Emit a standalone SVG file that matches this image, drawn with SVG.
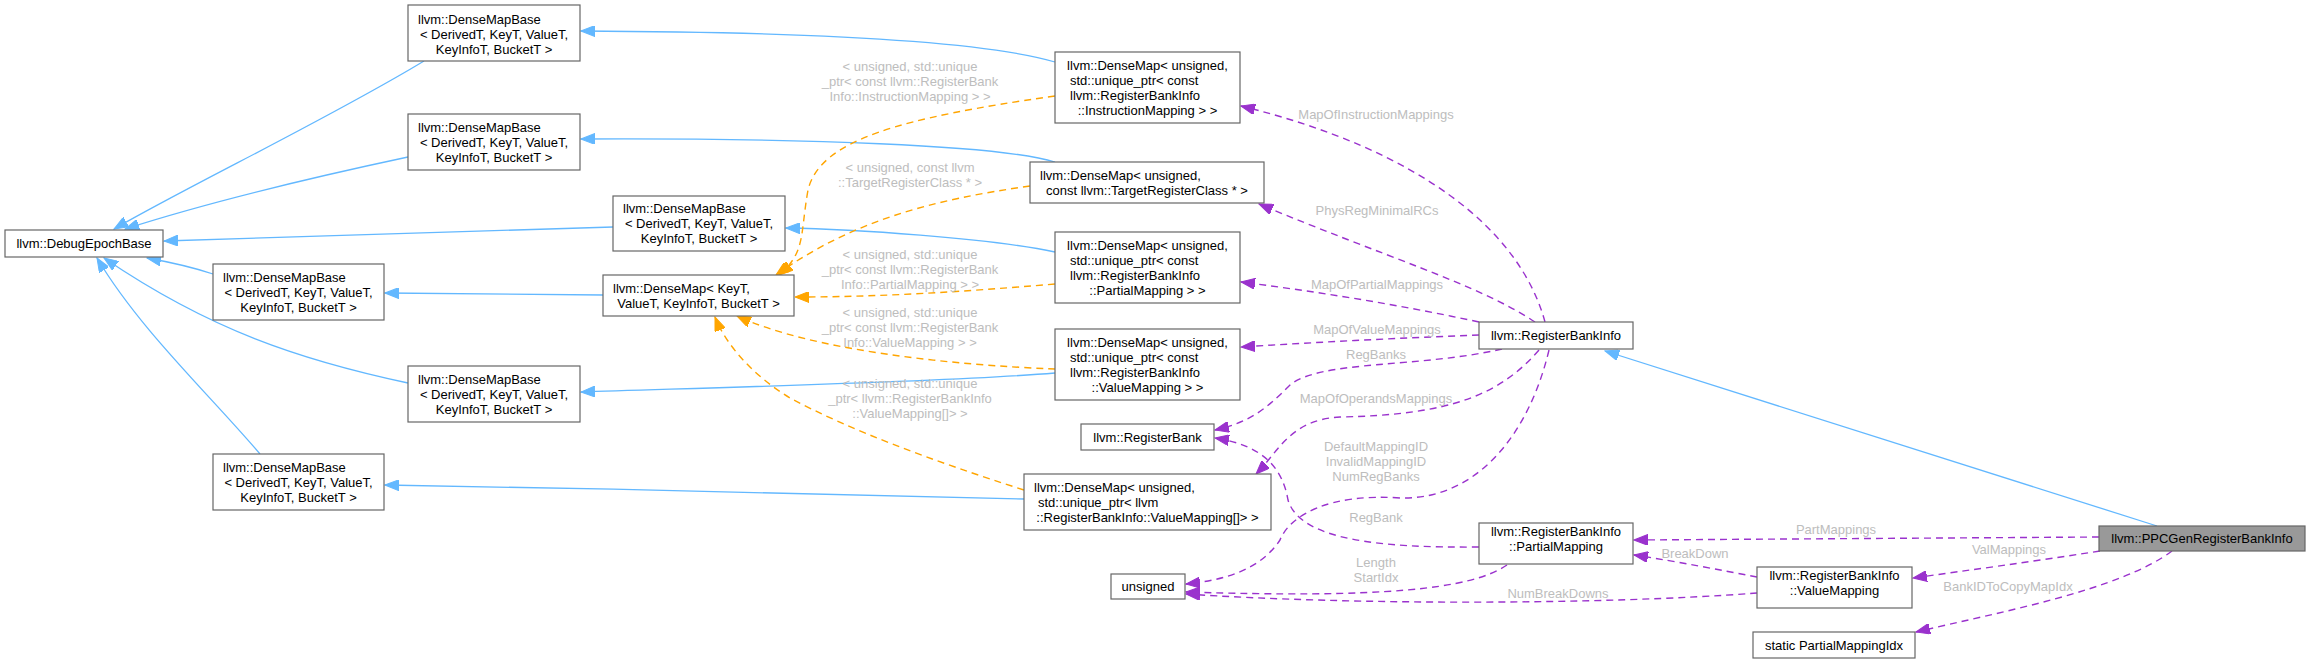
<svg xmlns="http://www.w3.org/2000/svg" width="2311" height="663" viewBox="0 0 2311 663">
<style>
text{font-family:"Liberation Sans",Arial,Helvetica,sans-serif;font-size:13px;fill:#000}
.m{text-anchor:middle}
.lbl{fill:#bdbdbd;text-anchor:middle}
.node rect{fill:#fff;stroke:#666;stroke-width:1.2}
#R rect{fill:#999}
.inh{stroke:#63b8ff;fill:none;stroke-width:1.3}
.tpl{stroke:#ffa500;fill:none;stroke-width:1.4;stroke-dasharray:7,5}
.use{stroke:#9a32cd;fill:none;stroke-width:1.4;stroke-dasharray:7,5}
</style>
<defs>
<marker id="ab" markerUnits="userSpaceOnUse" markerWidth="15" markerHeight="11" refX="14" refY="5.5" orient="auto"><path d="M0,0 L14,5.5 L0,11 z" fill="#63b8ff" stroke="#63b8ff"/></marker>
<marker id="ao" markerUnits="userSpaceOnUse" markerWidth="15" markerHeight="11" refX="14" refY="5.5" orient="auto"><path d="M0,0 L14,5.5 L0,11 z" fill="#ffa500" stroke="#ffa500"/></marker>
<marker id="ap" markerUnits="userSpaceOnUse" markerWidth="15" markerHeight="11" refX="14" refY="5.5" orient="auto"><path d="M0,0 L14,5.5 L0,11 z" fill="#9a32cd" stroke="#9a32cd"/></marker>
</defs>

<g id="edges">
<!-- inheritance -->
<path class="inh" marker-end="url(#ab)" d="M424,61 C330,118 190,185 114,229"/>
<path class="inh" marker-end="url(#ab)" d="M408,157 C300,180 200,205 125,229"/>
<path class="inh" marker-end="url(#ab)" d="M613,227 C450,232 300,237 164,241"/>
<path class="inh" marker-end="url(#ab)" d="M213,274 C195,268 175,263 147,258"/>
<path class="inh" marker-end="url(#ab)" d="M408,383 C300,360 210,330 104,258"/>
<path class="inh" marker-end="url(#ab)" d="M260,454 C210,395 140,330 97,258"/>
<path class="inh" marker-end="url(#ab)" d="M1055,62 C980,40 800,32 581,31"/>
<path class="inh" marker-end="url(#ab)" d="M1055,162 C1000,145 800,138 581,139"/>
<path class="inh" marker-end="url(#ab)" d="M1055,252 C990,238 850,229 786,228"/>
<path class="inh" marker-end="url(#ab)" d="M603,295 L385,293"/>
<path class="inh" marker-end="url(#ab)" d="M1055,373 C950,382 700,388 581,392"/>
<path class="inh" marker-end="url(#ab)" d="M1024,499 C900,496 600,488 385,485"/>
<path class="inh" marker-end="url(#ab)" d="M2157,526 L1605,351"/>
<!-- template -->
<path class="tpl" marker-end="url(#ao)" d="M1055,96 C900,118 820,140 808,190 C800,235 806,252 779,275"/>
<path class="tpl" marker-end="url(#ao)" d="M1030,186 C930,200 850,222 776,275"/>
<path class="tpl" marker-end="url(#ao)" d="M1055,284 C960,292 880,297 795,297"/>
<path class="tpl" marker-end="url(#ao)" d="M1055,369 C950,365 810,350 737,316"/>
<path class="tpl" marker-end="url(#ao)" d="M1024,490 C930,460 850,430 790,398 C760,380 728,350 715,317"/>
<!-- usage -->
<path class="use" marker-end="url(#ap)" d="M1545,322 C1520,230 1420,150 1241,106"/>
<path class="use" marker-end="url(#ap)" d="M1535,322 C1480,285 1380,255 1259,204"/>
<path class="use" marker-end="url(#ap)" d="M1479,322 C1400,305 1320,292 1241,282"/>
<path class="use" marker-end="url(#ap)" d="M1479,335 C1400,338 1320,342 1241,347"/>
<path class="use" marker-end="url(#ap)" d="M1502,349 C1420,368 1320,360 1290,385 C1265,410 1250,422 1215,430"/>
<path class="use" marker-end="url(#ap)" d="M1539,350 C1500,395 1450,415 1340,417 C1290,420 1280,450 1256,474"/>
<path class="use" marker-end="url(#ap)" d="M1549,350 C1530,430 1480,500 1400,498 C1330,493 1290,515 1280,540 C1260,570 1225,580 1186,584"/>
<path class="use" marker-end="url(#ap)" d="M1479,547 C1380,548 1300,540 1288,500 C1282,465 1260,445 1215,438"/>
<path class="use" marker-end="url(#ap)" d="M1507,565 C1470,590 1380,598 1186,592"/>
<path class="use" marker-end="url(#ap)" d="M1757,593 C1600,605 1350,605 1186,594"/>
<path class="use" marker-end="url(#ap)" d="M1757,577 C1720,570 1680,562 1634,555"/>
<path class="use" marker-end="url(#ap)" d="M2099,537 L1634,540"/>
<path class="use" marker-end="url(#ap)" d="M2100,551 C2030,562 1970,570 1913,578"/>
<path class="use" marker-end="url(#ap)" d="M2172,551 C2120,590 2000,612 1916,632"/>
<!-- labels -->
<text class="lbl" x="910" y="70.5">&lt; unsigned, std::unique</text>
<text class="lbl" x="910" y="85.5">_ptr&lt; const llvm::RegisterBank</text>
<text class="lbl" x="910" y="100.5">Info::InstructionMapping &gt; &gt;</text>
<text class="lbl" x="910" y="171.5">&lt; unsigned, const llvm</text>
<text class="lbl" x="910" y="186.5">::TargetRegisterClass * &gt;</text>
<text class="lbl" x="910" y="258.5">&lt; unsigned, std::unique</text>
<text class="lbl" x="910" y="273.5">_ptr&lt; const llvm::RegisterBank</text>
<text class="lbl" x="910" y="288.5">Info::PartialMapping &gt; &gt;</text>
<text class="lbl" x="910" y="316.5">&lt; unsigned, std::unique</text>
<text class="lbl" x="910" y="331.5">_ptr&lt; const llvm::RegisterBank</text>
<text class="lbl" x="910" y="346.5">Info::ValueMapping &gt; &gt;</text>
<text class="lbl" x="910" y="387.5">&lt; unsigned, std::unique</text>
<text class="lbl" x="910" y="402.5">_ptr&lt; llvm::RegisterBankInfo</text>
<text class="lbl" x="910" y="417.5">::ValueMapping[]&gt; &gt;</text>
<text class="lbl" x="1376" y="118.5">MapOfInstructionMappings</text>
<text class="lbl" x="1377" y="214.5">PhysRegMinimalRCs</text>
<text class="lbl" x="1377" y="288.5">MapOfPartialMappings</text>
<text class="lbl" x="1377" y="333.5">MapOfValueMappings</text>
<text class="lbl" x="1376" y="358.5">RegBanks</text>
<text class="lbl" x="1376" y="402.5">MapOfOperandsMappings</text>
<text class="lbl" x="1376" y="450.5">DefaultMappingID</text>
<text class="lbl" x="1376" y="465.5">InvalidMappingID</text>
<text class="lbl" x="1376" y="480.5">NumRegBanks</text>
<text class="lbl" x="1376" y="521.5">RegBank</text>
<text class="lbl" x="1376" y="566.5">Length</text>
<text class="lbl" x="1376" y="581.5">StartIdx</text>
<text class="lbl" x="1558" y="597.5">NumBreakDowns</text>
<text class="lbl" x="1836" y="533.5">PartMappings</text>
<text class="lbl" x="1695" y="557.5">BreakDown</text>
<text class="lbl" x="2009" y="553.5">ValMappings</text>
<text class="lbl" x="2008" y="590.5">BankIDToCopyMapIdx</text>
</g>

<g id="DebugEpochBase" class="node"><rect x="5" y="230" width="158" height="27"/><text class="m" x="84" y="248">llvm::DebugEpochBase</text></g>
<g id="DenseMapBaseA" class="node"><rect x="408" y="5" width="172" height="56"/><text x="418" y="23.5">llvm::DenseMapBase</text><text class="m" x="494" y="38.5">&lt; DerivedT, KeyT, ValueT,</text><text class="m" x="494" y="53.5">KeyInfoT, BucketT &gt;</text></g>
<g id="DenseMapBaseB" class="node"><rect x="408" y="114" width="172" height="56"/><text x="418" y="131.5">llvm::DenseMapBase</text><text class="m" x="494" y="146.5">&lt; DerivedT, KeyT, ValueT,</text><text class="m" x="494" y="161.5">KeyInfoT, BucketT &gt;</text></g>
<g id="DenseMapBaseC" class="node"><rect x="613" y="196" width="172" height="55"/><text x="623" y="213">llvm::DenseMapBase</text><text class="m" x="699" y="228">&lt; DerivedT, KeyT, ValueT,</text><text class="m" x="699" y="243">KeyInfoT, BucketT &gt;</text></g>
<g id="DenseMapBaseD" class="node"><rect x="213" y="264" width="171" height="56"/><text x="223" y="281.5">llvm::DenseMapBase</text><text class="m" x="298.5" y="296.5">&lt; DerivedT, KeyT, ValueT,</text><text class="m" x="298.5" y="311.5">KeyInfoT, BucketT &gt;</text></g>
<g id="DenseMapBaseE" class="node"><rect x="408" y="366" width="172" height="56"/><text x="418" y="383.5">llvm::DenseMapBase</text><text class="m" x="494" y="398.5">&lt; DerivedT, KeyT, ValueT,</text><text class="m" x="494" y="413.5">KeyInfoT, BucketT &gt;</text></g>
<g id="DenseMapBaseF" class="node"><rect x="213" y="454" width="171" height="56"/><text x="223" y="471.5">llvm::DenseMapBase</text><text class="m" x="298.5" y="486.5">&lt; DerivedT, KeyT, ValueT,</text><text class="m" x="298.5" y="501.5">KeyInfoT, BucketT &gt;</text></g>
<g id="DenseMapKeyT" class="node"><rect x="603" y="275" width="191" height="41"/><text x="613" y="292.5">llvm::DenseMap&lt; KeyT,</text><text class="m" x="698.5" y="307.5">ValueT, KeyInfoT, BucketT &gt;</text></g>
<g id="DenseMapInstr" class="node"><rect x="1055" y="52" width="185" height="71"/><text class="m" x="1147.5" y="69.5">llvm::DenseMap&lt; unsigned,</text><text x="1070" y="84.5">std::unique_ptr&lt; const</text><text x="1070" y="99.5">llvm::RegisterBankInfo</text><text class="m" x="1147.5" y="114.5">::InstructionMapping &gt; &gt;</text></g>
<g id="DenseMapTRC" class="node"><rect x="1030" y="162" width="234" height="41"/><text x="1040" y="179.5">llvm::DenseMap&lt; unsigned,</text><text class="m" x="1147" y="194.5">const llvm::TargetRegisterClass * &gt;</text></g>
<g id="DenseMapPartial" class="node"><rect x="1055" y="232" width="185" height="71"/><text class="m" x="1147.5" y="249.5">llvm::DenseMap&lt; unsigned,</text><text x="1070" y="264.5">std::unique_ptr&lt; const</text><text x="1070" y="279.5">llvm::RegisterBankInfo</text><text class="m" x="1147.5" y="294.5">::PartialMapping &gt; &gt;</text></g>
<g id="DenseMapValue" class="node"><rect x="1055" y="329" width="185" height="71"/><text class="m" x="1147.5" y="346.5">llvm::DenseMap&lt; unsigned,</text><text x="1070" y="361.5">std::unique_ptr&lt; const</text><text x="1070" y="376.5">llvm::RegisterBankInfo</text><text class="m" x="1147.5" y="391.5">::ValueMapping &gt; &gt;</text></g>
<g id="RegisterBank" class="node"><rect x="1081" y="424" width="133" height="26"/><text class="m" x="1147.5" y="441.5">llvm::RegisterBank</text></g>
<g id="DenseMapValueArr" class="node"><rect x="1024" y="474" width="247" height="56"/><text x="1034" y="491.5">llvm::DenseMap&lt; unsigned,</text><text x="1038" y="506.5">std::unique_ptr&lt; llvm</text><text class="m" x="1147.5" y="521.5">::RegisterBankInfo::ValueMapping[]&gt; &gt;</text></g>
<g id="unsigned" class="node"><rect x="1111" y="574" width="74" height="25"/><text class="m" x="1148" y="591">unsigned</text></g>
<g id="RegisterBankInfo" class="node"><rect x="1479" y="322" width="154" height="27"/><text class="m" x="1556" y="340">llvm::RegisterBankInfo</text></g>
<g id="PartialMapping" class="node"><rect x="1479" y="523" width="154" height="41"/><text class="m" x="1556" y="536">llvm::RegisterBankInfo</text><text class="m" x="1556" y="551">::PartialMapping</text></g>
<g id="ValueMapping" class="node"><rect x="1757" y="567" width="155" height="41"/><text class="m" x="1834.5" y="580">llvm::RegisterBankInfo</text><text class="m" x="1834.5" y="595">::ValueMapping</text></g>
<g id="R" class="node"><rect x="2099" y="526" width="206" height="25"/><text class="m" x="2202" y="543">llvm::PPCGenRegisterBankInfo</text></g>
<g id="PartialMappingIdx" class="node"><rect x="1753" y="632" width="162" height="26"/><text class="m" x="1834" y="649.5">static PartialMappingIdx</text></g>
</svg>
